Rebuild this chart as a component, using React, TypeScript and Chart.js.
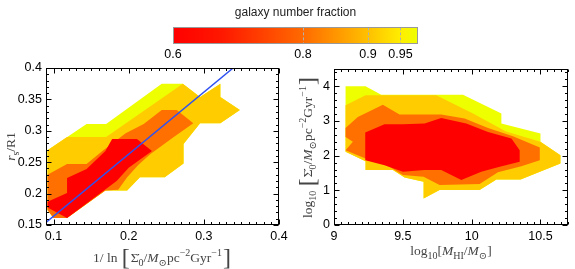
import React, { useEffect, useRef } from "react";
import { Chart, registerables } from "chart.js";
Chart.register(...registerables);

const W = 575;
const H = 269;
const SANS = '"Liberation Sans", Arial, Helvetica, sans-serif';
const SERIF = '"Liberation Serif", "DejaVu Serif", "Times New Roman", serif';

// ---------------- data ----------------
// colour bar
const LEVELS = [0.6, 0.8, 0.9, 0.95];
const LEVEL_LABELS = ["0.6", "0.8", "0.9", "0.95"];
const CBAR_MIN = 0.6;
const CBAR_MAX = 0.977;
const CBAR_TITLE = "galaxy number fraction";

// left panel: 1/ln(Sigma0) vs rs/R1
const L_X_RANGE = [0.09, 0.4];
const L_Y_RANGE = [0.15, 0.4];
const L_X_TICKS = [0.1, 0.2, 0.3, 0.4];
const L_X_LABELS = ["0.1", "0.2", "0.3", "0.4"];
const L_Y_TICKS = [0.15, 0.2, 0.25, 0.3, 0.35, 0.4];
const L_Y_LABELS = ["0.15", "0.2", "0.25", "0.3", "0.35", "0.4"];
const FIT_X = [0.09, 0.339];
const FIT_Y = [0.154, 0.4];

type Pt = [number, number];
const L_95: Pt[] = [
  [0.092, 0.269], [0.144, 0.311], [0.170, 0.311], [0.244, 0.375], [0.272, 0.375],
  [0.295, 0.354], [0.322, 0.375], [0.322, 0.354], [0.348, 0.333], [0.322, 0.312],
  [0.295, 0.312], [0.273, 0.279], [0.273, 0.248], [0.248, 0.226], [0.215, 0.226],
  [0.198, 0.205], [0.169, 0.205], [0.118, 0.161], [0.100, 0.161], [0.092, 0.174],
];
const L_90: Pt[] = [
  [0.092, 0.269], [0.118, 0.290], [0.170, 0.290], [0.272, 0.375],
  [0.295, 0.354], [0.322, 0.375], [0.322, 0.354], [0.348, 0.333], [0.322, 0.312],
  [0.295, 0.312], [0.273, 0.279], [0.273, 0.248], [0.248, 0.226], [0.215, 0.226],
  [0.198, 0.205], [0.169, 0.205], [0.118, 0.161], [0.100, 0.161], [0.092, 0.174],
];
const L_80: Pt[] = [
  [0.092, 0.230], [0.118, 0.247], [0.144, 0.247], [0.165, 0.268], [0.196, 0.296],
  [0.220, 0.311], [0.244, 0.333], [0.264, 0.333], [0.286, 0.312], [0.260, 0.290],
  [0.229, 0.263], [0.213, 0.246], [0.198, 0.226], [0.186, 0.206], [0.169, 0.205],
  [0.118, 0.161], [0.100, 0.161], [0.092, 0.174],
];
const L_60: Pt[] = [
  [0.092, 0.187], [0.118, 0.201], [0.118, 0.225], [0.144, 0.239], [0.169, 0.268],
  [0.178, 0.287], [0.211, 0.287], [0.231, 0.268], [0.200, 0.241], [0.184, 0.220],
  [0.118, 0.161], [0.092, 0.178],
];

// right panel: log MHI vs log Sigma0
const R_X_RANGE = [9, 10.7];
const R_Y_RANGE = [0, 4.5];
const R_X_TICKS = [9, 9.5, 10, 10.5];
const R_X_LABELS = ["9", "9.5", "10", "10.5"];
const R_Y_TICKS = [0, 1, 2, 3, 4];
const R_Y_LABELS = ["0", "1", "2", "3", "4"];

const R_95: Pt[] = [
  [9.084, 4.0], [9.229, 4.0], [9.343, 3.76], [9.937, 3.76], [10.216, 3.213],
  [10.216, 2.926], [10.5, 2.638], [10.5, 2.398], [10.645, 2.014], [10.645, 1.775],
  [10.356, 1.314], [10.18, 1.314], [10.058, 1.007], [9.767, 1.007], [9.651, 0.767],
  [9.651, 1.247], [9.513, 1.372], [9.428, 1.583], [9.229, 1.583], [9.229, 1.842],
  [9.084, 2.11],
];
const R_90: Pt[] = [
  [9.084, 3.453], [9.229, 3.741], [9.743, 3.741], [10.01, 3.213], [10.25, 2.7],
  [10.5, 2.398], [10.645, 2.014], [10.645, 1.775],
  [10.356, 1.314], [10.18, 1.314], [10.058, 1.007], [9.767, 1.007], [9.651, 0.767],
  [9.651, 1.247], [9.513, 1.372], [9.428, 1.583], [9.229, 1.583], [9.229, 1.842],
  [9.084, 2.11],
];
const R_80: Pt[] = [
  [9.084, 2.801], [9.173, 3.118], [9.355, 3.472], [9.476, 3.185], [9.779, 3.185],
  [9.949, 3.07], [10.119, 2.801], [10.3, 2.561], [10.495, 2.235], [10.495, 1.871],
  [10.361, 1.698], [10.191, 1.525], [10.058, 1.18], [9.767, 1.151], [9.651, 1.391],
  [9.5, 1.439], [9.343, 1.823], [9.229, 1.918], [9.084, 2.158], [9.137, 2.398],
  [9.084, 2.542],
];
const R_60: Pt[] = [
  [9.227, 2.667], [9.367, 2.906], [9.501, 2.906], [9.658, 2.926], [9.779, 3.089],
  [9.961, 2.926], [10.119, 2.686], [10.289, 2.494], [10.349, 2.158], [10.349, 1.823],
  [10.204, 1.679], [10.07, 1.535], [9.925, 1.295], [9.779, 1.583], [9.658, 1.583],
  [9.501, 1.535], [9.367, 1.727], [9.227, 1.871],
];

// axis titles (rich text segments)
type Seg = [string, string];
const L_XTITLE: Seg[] = [
  ["1/ ln ", ""], ["[", "big"], ["Σ̇", ""], ["0", "sub"], ["/", ""], ["M", "i"], ["⊙", "sub"],
  ["pc", ""], ["−2", "sup"], ["Gyr", ""], ["−1", "sup"], ["]", "big"],
];
const L_YTITLE: Seg[] = [["r", "i"], ["s", "sub"], ["/R1", ""]];
const R_XTITLE: Seg[] = [
  ["log", ""], ["10", "sub"], ["[", ""], ["M", "i"], ["HI", "sub"], ["/", ""], ["M", "i"], ["⊙", "sub"], ["]", ""],
];
const R_YTITLE: Seg[] = [
  ["log", ""], ["10", "sub"], [" ", ""], ["[", "big"], ["Σ̇", ""], ["0", "sub"], ["/", ""], ["M", "i"], ["⊙", "sub"],
  ["pc", ""], ["−2", "sup"], ["Gyr", ""], ["−1", "sup"], ["]", "big"],
];

// ---------------- styles ----------------
const LEVEL_COLORS = ["#ff0000", "#ff7000", "#ffcc00", "#eeff00"];
const BLUE = "#2f52f0";
const CBAR_STOPS: [number, string][] = [
  [0, "#ff0000"], [0.2, "#ff1800"], [0.53, "#ff6a00"], [0.8, "#ffc200"], [0.93, "#ffee00"], [1, "#eeff00"],
];
const TITLE_COLOR = "#444";

const toXY = (p: Pt[]) => p.map(([x, y]) => ({ x, y }));

function drawRich(ctx: CanvasRenderingContext2D, segs: Seg[], cx: number, cy: number, rot: number, size: number, color: string) {
  const fontFor = (st: string) => {
    if (st === "i") return `italic ${size}px ${SERIF}`;
    if (st === "sub" || st === "sup") return `${Math.round(size * 0.72)}px ${SERIF}`;
    if (st === "big") return `${Math.round(size * 1.75)}px ${SERIF}`;
    return `${size}px ${SERIF}`;
  };
  const widths: number[] = [];
  let total = 0;
  for (const [t, st] of segs) {
    ctx.font = fontFor(st);
    const w = ctx.measureText(t).width + (st === "big" ? 2 : 0);
    widths.push(w);
    total += w;
  }
  ctx.save();
  ctx.translate(cx, cy);
  ctx.rotate(rot);
  ctx.fillStyle = color;
  ctx.textBaseline = "alphabetic";
  ctx.textAlign = "left";
  let x = -total / 2;
  const base = size * 0.35;
  segs.forEach(([t, st], i) => {
    ctx.font = fontFor(st);
    let dy = 0;
    if (st === "sub") dy = size * 0.3;
    if (st === "sup") dy = -size * 0.42;
    if (st === "big") dy = size * 0.22;
    ctx.fillText(t, x + (st === "big" ? 1 : 0), base + dy);
    x += widths[i];
  });
  ctx.restore();
}

const polyFillPlugin = {
  id: "polyFill",
  beforeDatasetDraw(chart: any, args: any) {
    const ds = chart.data.datasets[args.index];
    if (!ds.polyColor) return;
    const pts = args.meta.data;
    const ctx: CanvasRenderingContext2D = chart.ctx;
    const a = chart.chartArea;
    ctx.save();
    ctx.beginPath();
    ctx.rect(a.left, a.top, a.right - a.left, a.bottom - a.top);
    ctx.clip();
    ctx.beginPath();
    pts.forEach((p: any, i: number) => (i ? ctx.lineTo(p.x, p.y) : ctx.moveTo(p.x, p.y)));
    ctx.closePath();
    ctx.fillStyle = ds.polyColor;
    ctx.fill();
    ctx.restore();
    return false;
  },
};

function makeFramePlugin(xMajor: number, xMinor: number, yMajor: number, yMinor: number) {
  return {
    id: "frameTicks",
    afterDatasetsDraw(chart: any) {
      const ctx: CanvasRenderingContext2D = chart.ctx;
      const a = chart.chartArea;
      const xs = chart.scales.x;
      const ys = chart.scales.y;
      ctx.save();
      ctx.strokeStyle = "#000";
      ctx.lineWidth = 1;
      const L = Math.round(a.left) + 0.5;
      const R = Math.round(a.right) - 0.5;
      const T = Math.round(a.top) + 0.5;
      const B = Math.round(a.bottom) - 0.5;
      ctx.strokeRect(L, T, R - L, B - T);
      const isMaj = (v: number, step: number) => Math.abs(v / step - Math.round(v / step)) < 1e-6;
      ctx.beginPath();
      for (let k = Math.ceil(xs.min / xMinor - 1e-6); k * xMinor <= xs.max + 1e-9; k++) {
        const v = k * xMinor;
        const len = isMaj(v, xMajor) ? 5 : 2.5;
        const px = Math.round(xs.getPixelForValue(v)) + 0.5;
        ctx.moveTo(px, B); ctx.lineTo(px, B - len);
        ctx.moveTo(px, T); ctx.lineTo(px, T + len);
      }
      for (let k = Math.ceil(ys.min / yMinor - 1e-6); k * yMinor <= ys.max + 1e-9; k++) {
        const v = k * yMinor;
        const len = isMaj(v, yMajor) ? 5 : 2.5;
        const py = Math.round(ys.getPixelForValue(v)) + 0.5;
        ctx.moveTo(L, py); ctx.lineTo(L + len, py);
        ctx.moveTo(R, py); ctx.lineTo(R - len, py);
      }
      ctx.stroke();
      ctx.restore();
    },
  };
}

function makeTitlesPlugin(xSegs: Seg[], xOff: number, ySegs: Seg[], yOff: number) {
  return {
    id: "axisTitles",
    afterDraw(chart: any) {
      const a = chart.chartArea;
      drawRich(chart.ctx, xSegs, (a.left + a.right) / 2, a.bottom + xOff, 0, 13.5, TITLE_COLOR);
      drawRich(chart.ctx, ySegs, a.left + yOff, (a.top + a.bottom) / 2, -Math.PI / 2, 13.5, TITLE_COLOR);
    },
  };
}

const cbarFramePlugin = {
  id: "cbarFrame",
  afterDatasetsDraw(chart: any) {
    const ctx: CanvasRenderingContext2D = chart.ctx;
    const a = chart.chartArea;
    const xs = chart.scales.x;
    ctx.save();
    ctx.strokeStyle = "#b0b0b0";
    ctx.lineWidth = 1;
    ctx.setLineDash([3, 2]);
    ctx.beginPath();
    for (const v of LEVELS.slice(1)) {
      const px = Math.round(xs.getPixelForValue(v)) + 0.5;
      ctx.moveTo(px, a.top); ctx.lineTo(px, a.bottom);
    }
    ctx.stroke();
    ctx.setLineDash([]);
    ctx.strokeStyle = "#999";
    ctx.strokeRect(Math.round(a.left) + 0.5, Math.round(a.top) + 0.5, Math.round(a.right - a.left) - 1, Math.round(a.bottom - a.top) - 1);
    ctx.restore();
  },
};

const tickFont = { family: SANS, size: 12.5 };

function axis(range: number[], ticks: number[], labels: string[], fit: (s: any) => void) {
  return {
    type: "linear",
    min: range[0],
    max: range[1],
    afterBuildTicks: (s: any) => { s.ticks = ticks.map((v) => ({ value: v })); },
    ticks: { callback: (_v: any, i: number) => labels[i], font: tickFont, color: "#000", padding: 4, autoSkip: false, maxRotation: 0 },
    grid: { display: false, drawTicks: false },
    border: { display: false },
    afterFit: fit,
  };
}

function polyDatasets(polys: Pt[][]) {
  // drawn from index 0 on top; polys given outermost first
  return polys
    .map((p, i) => ({ type: "scatter", data: toXY(p), polyColor: LEVEL_COLORS[3 - i], pointRadius: 0, showLine: false }))
    .reverse();
}

function cbarConfig(): any {
  return {
    type: "bar",
    data: {
      labels: [""],
      datasets: [{
        data: [[CBAR_MIN, CBAR_MAX]],
        backgroundColor: (c: any) => {
          const ch = c.chart;
          const a = ch.chartArea;
          if (!a) return "#ff0000";
          const g = ch.ctx.createLinearGradient(a.left, 0, a.right, 0);
          CBAR_STOPS.forEach(([t, col]) => g.addColorStop(t, col));
          return g;
        },
        borderWidth: 0,
        barPercentage: 1,
        categoryPercentage: 1,
      }],
    },
    options: {
      indexAxis: "y",
      responsive: false,
      animation: false,
      events: [],
      layout: { padding: { left: 173, right: W - 418, top: 0, bottom: 0 } },
      plugins: {
        legend: { display: false },
        tooltip: { enabled: false },
        title: { display: true, text: CBAR_TITLE, color: "#222", font: { family: SANS, size: 12, weight: "normal" }, padding: { top: 5, bottom: 8 } },
      },
      scales: {
        x: { ...axis([CBAR_MIN, CBAR_MAX], LEVELS, LEVEL_LABELS, (s: any) => { s.height = H - 44; }), ticks: { callback: (_v: any, i: number) => LEVEL_LABELS[i], font: tickFont, color: "#000", padding: 3, autoSkip: false, maxRotation: 0 } },
        y: { display: false },
      },
    },
    plugins: [cbarFramePlugin],
  };
}

function leftConfig(): any {
  return {
    type: "scatter",
    data: {
      datasets: [
        { type: "scatter", data: FIT_X.map((x, i) => ({ x, y: FIT_Y[i] })), showLine: true, borderColor: BLUE, borderWidth: 1.5, pointRadius: 0, fill: false },
        ...polyDatasets([L_95, L_90, L_80, L_60]),
      ],
    },
    options: {
      responsive: false,
      animation: false,
      events: [],
      layout: { padding: { left: 0, right: W - 279, top: 68, bottom: 0 } },
      plugins: { legend: { display: false }, tooltip: { enabled: false } },
      scales: {
        x: axis(L_X_RANGE, L_X_TICKS, L_X_LABELS, (s: any) => { s.height = 44; }),
        y: axis(L_Y_RANGE, L_Y_TICKS, L_Y_LABELS, (s: any) => { s.width = 46; }),
      },
    },
    plugins: [polyFillPlugin, makeFramePlugin(0.1, 0.01, 0.05, 0.01), makeTitlesPlugin(L_XTITLE, 32, L_YTITLE, -36)],
  };
}

function rightConfig(): any {
  return {
    type: "scatter",
    data: { datasets: polyDatasets([R_95, R_90, R_80, R_60]) },
    options: {
      responsive: false,
      animation: false,
      events: [],
      layout: { padding: { left: 290, right: W - 568, top: 69, bottom: 0 } },
      plugins: { legend: { display: false }, tooltip: { enabled: false } },
      scales: {
        x: axis(R_X_RANGE, R_X_TICKS, R_X_LABELS, (s: any) => { s.height = 44; }),
        y: axis(R_Y_RANGE, R_Y_TICKS, R_Y_LABELS, (s: any) => { s.width = 44; }),
      },
    },
    plugins: [polyFillPlugin, makeFramePlugin(0.5, 0.05, 1, 0.2), makeTitlesPlugin(R_XTITLE, 25, R_YTITLE, -27)],
  };
}

export default function App() {
  const cbRef = useRef<HTMLCanvasElement>(null);
  const lRef = useRef<HTMLCanvasElement>(null);
  const rRef = useRef<HTMLCanvasElement>(null);

  useEffect(() => {
    const charts: Chart[] = [];
    if (cbRef.current) charts.push(new Chart(cbRef.current, cbarConfig()));
    if (lRef.current) charts.push(new Chart(lRef.current, leftConfig()));
    if (rRef.current) charts.push(new Chart(rRef.current, rightConfig()));
    return () => charts.forEach((c) => c.destroy());
  }, []);

  const cs: React.CSSProperties = { position: "absolute", left: 0, top: 0, width: W, height: H };
  return (
    <div style={{ position: "fixed", left: 0, top: 0, width: W, height: H, background: "#fff", overflow: "hidden" }}>
      <canvas ref={cbRef} width={W} height={H} style={cs} />
      <canvas ref={lRef} width={W} height={H} style={cs} />
      <canvas ref={rRef} width={W} height={H} style={cs} />
    </div>
  );
}
